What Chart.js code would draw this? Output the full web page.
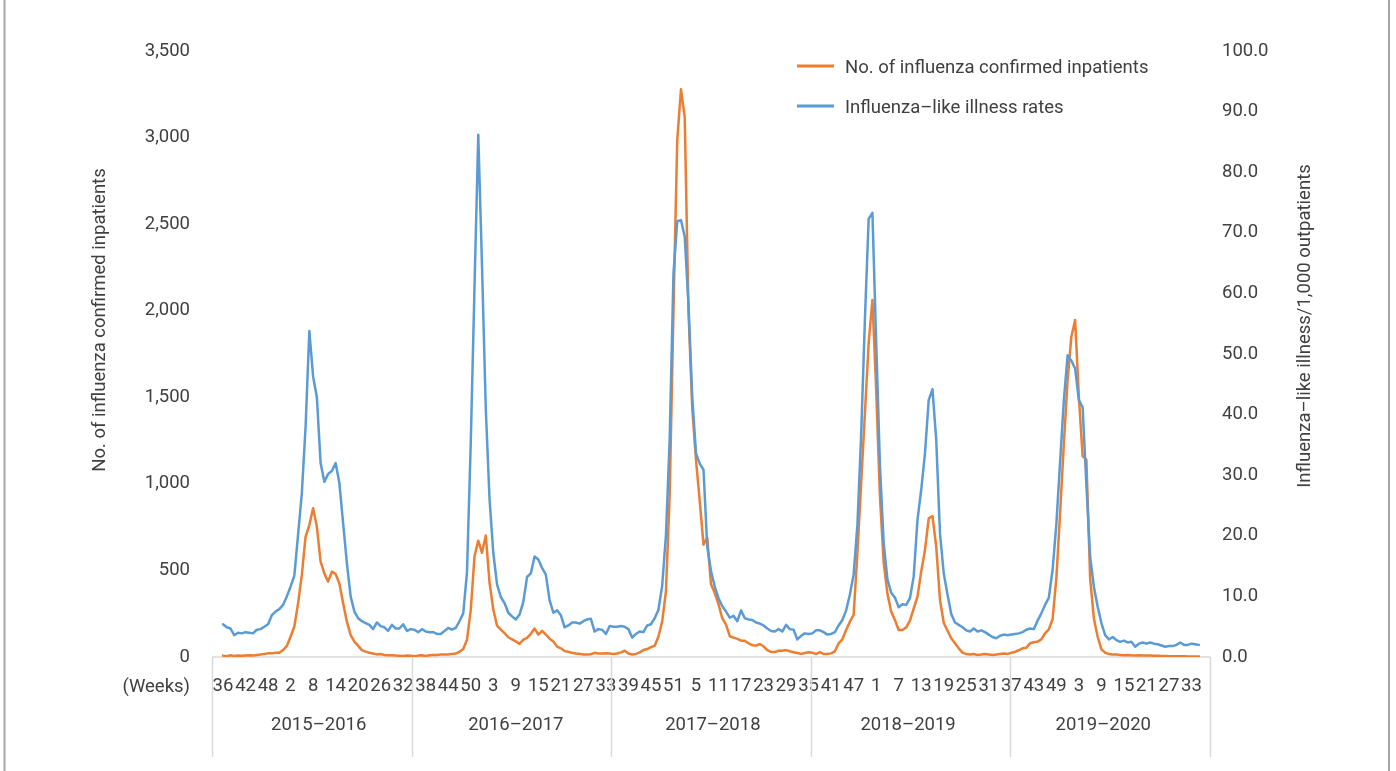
<!DOCTYPE html>
<html>
<head>
<meta charset="utf-8">
<script src="https://cdn.jsdelivr.net/npm/chart.js@4.4.1/dist/chart.umd.min.js"></script>
<style>
  html, body { margin: 0; padding: 0; background: #fff; }
  canvas { display: block; }
</style>
</head>
<body>
<canvas id="flu_chart" width="1396" height="771"></canvas>
<script>
// week numbers of one season (Sep -> Aug), 2016 has a week 53
const weeks52 = [36,37,38,39,40,41,42,43,44,45,46,47,48,49,50,51,52,
  1,2,3,4,5,6,7,8,9,10,11,12,13,14,15,16,17,18,19,20,21,22,23,24,25,26,27,28,29,30,31,32,33,34,35];
const weeks53 = [36,37,38,39,40,41,42,43,44,45,46,47,48,49,50,51,52,53,
  1,2,3,4,5,6,7,8,9,10,11,12,13,14,15,16,17,18,19,20,21,22,23,24,25,26,27,28,29,30,31,32,33,34,35];

const seasons = ['2015–2016', '2016–2017', '2017–2018', '2018–2019', '2019–2020'];
const seasonWeeks = [weeks52, weeks53, weeks52, weeks52, weeks52];

// No. of influenza confirmed inpatients (left axis)
const inpat1516 = [8,5,10,6,8,7,9,10,8,12,14,17,21,21,25,25,40,64,117,175,310,474,695,762,859,753,
  551,483,435,493,479,425,310,204,127,89,64,40,31,25,20,15,17,12,10,10,8,7,6,8,7,5];
const inpat1617 = [8,10,6,10,12,12,14,15,15,18,20,30,46,100,271,582,672,602,702,430,275,181,158,138,114,102,
  90,76,100,110,134,164,130,151,130,106,90,60,50,34,30,24,20,18,14,14,16,24,20,20,22,20,18];
const inpat1718 = [20,27,36,20,14,18,27,40,46,57,65,118,204,380,940,2000,2980,3279,3117,2000,1440,1140,900,649,690,420,
  369,305,224,187,120,112,105,94,94,79,68,66,75,62,40,29,29,36,36,40,33,27,23,18,23,27];
const inpat1819 = [25,17,29,17,17,21,33,79,102,156,204,243,599,1003,1407,1812,2062,1544,930,545,366,262,214,156,156,171,
  210,281,348,493,618,801,814,637,329,198,152,108,79,50,25,17,15,17,12,14,17,15,12,14,17,20];
const inpat1920 = [17,25,29,39,50,54,79,85,89,102,137,160,218,455,830,1234,1600,1850,1946,1500,1160,1140,454,223,117,44,
  25,17,15,14,12,10,12,10,9,10,8,9,8,7,7,6,6,5,5,4,4,4,3,3,3,3];

// Influenza-like illness rates per 1,000 outpatients (right axis)
const ili1516 = [5.4,4.9,4.7,3.6,4.0,3.9,4.1,4.0,3.9,4.5,4.6,5.0,5.4,6.9,7.5,7.9,8.6,10.0,11.6,13.4,20.2,27.0,38.0,53.8,46.3,42.9,
  32.0,28.9,30.2,30.7,32.0,28.7,22.1,15.5,10.0,7.5,6.4,5.9,5.6,5.3,4.6,5.7,5.1,4.9,4.3,5.3,4.7,4.7,5.4,4.3,4.6,4.5];
const ili1617 = [4.1,4.6,4.2,4.1,4.1,3.8,3.8,4.3,4.8,4.5,4.8,5.9,7.2,14.0,35.3,61.1,86.2,64.5,41.0,26.1,17.2,12.0,9.9,8.9,7.3,6.7,
  6.2,7.0,9.1,13.2,13.8,16.6,16.1,14.7,13.6,9.4,7.3,7.7,6.9,4.9,5.2,5.7,5.7,5.5,5.9,6.2,6.3,4.2,4.6,4.5,3.8,5.1,5.0];
const ili1718 = [5.0,5.1,5.0,4.6,3.2,3.8,4.2,4.1,5.2,5.4,6.4,7.8,11.8,20.1,36.1,63.2,71.9,72.1,69.4,58.2,42.9,33.6,31.9,30.9,18.2,14.2,
  11.6,9.7,8.4,7.5,6.5,6.8,5.9,7.7,6.4,6.2,6.1,5.7,5.5,5.2,4.7,4.3,4.2,4.6,4.2,5.3,4.6,4.5,2.9,3.5,3.9,3.8];
const ili1819 = [3.9,4.4,4.4,4.1,3.7,3.8,4.1,5.2,6.1,7.7,10.3,13.6,21.8,36.6,55.7,72.3,73.3,52.0,31.7,18.8,12.8,10.6,9.8,8.2,8.7,8.6,
  9.7,13.3,22.6,27.6,33.6,42.4,44.2,35.8,20.4,13.8,10.3,7.1,5.7,5.3,4.9,4.4,4.2,4.7,4.2,4.4,4.1,3.7,3.3,3.1,3.5,3.7];
const ili1920 = [3.6,3.7,3.8,3.9,4.1,4.5,4.7,4.6,6.0,7.2,8.6,9.8,14.4,21.9,32.2,42.4,49.8,48.9,47.6,42.4,41.2,28.4,16.5,11.6,8.3,5.6,
  3.6,2.9,3.3,2.8,2.5,2.7,2.4,2.5,1.7,2.2,2.4,2.2,2.4,2.2,2.1,1.9,1.7,1.8,1.8,2.0,2.4,2.0,2.0,2.2,2.1,2.0];

const weekLabels = seasonWeeks.flat().map(String);
const inpatients = [...inpat1516, ...inpat1617, ...inpat1718, ...inpat1819, ...inpat1920];
const iliRates = [...ili1516, ...ili1617, ...ili1718, ...ili1819, ...ili1920];

const textColor = '#404040';
const fontFamily = 'Roboto, "Liberation Sans", sans-serif';
const fontSize = 18.5;
Chart.defaults.font.family = fontFamily;
Chart.defaults.font.size = fontSize;
Chart.defaults.color = textColor;

const orange = '#ED7D31';
const blue = '#5B9BD5';

// multi level axis, titles, legend and frame
const decor = {
  id: 'decor',
  beforeDatasetsDraw(chart) {
    const { ctx, chartArea: a, scales: { x } } = chart;
    const L = a.left - 11, R = a.right + 11, base = a.bottom;
    ctx.save();
    ctx.strokeStyle = '#d9d9d9';
    ctx.lineWidth = 1.5;
    ctx.beginPath();
    ctx.moveTo(L, base); ctx.lineTo(R, base);
    for (let s = 0; s <= seasons.length; s++) {
      const xx = Math.round(L + (R - L) * s / seasons.length) + 0.5;
      ctx.moveTo(xx, base); ctx.lineTo(xx, base + 100);
    }
    ctx.stroke();

    ctx.fillStyle = textColor;
    ctx.font = fontSize + 'px ' + fontFamily;
    ctx.textBaseline = 'middle';
    ctx.textAlign = 'center';
    let start = 0;
    seasons.forEach((name, s) => {
      const n = seasonWeeks[s].length;
      const cx = (x.getPixelForValue(start) + x.getPixelForValue(start + n - 1)) / 2;
      ctx.fillText(name, cx, base + 68);
      start += n;
    });
    ctx.textAlign = 'right';
    ctx.fillText('(Weeks)', a.left - 33, base + 30);

    // axis titles
    ctx.textAlign = 'center';
    ctx.save();
    ctx.translate(100, a.top + 269);
    ctx.rotate(-Math.PI / 2);
    ctx.fillText('No. of influenza confirmed inpatients', 0, 0);
    ctx.restore();
    ctx.save();
    ctx.translate(1305, a.top + 275);
    ctx.rotate(-Math.PI / 2);
    ctx.fillText('Influenza–like illness/1,000 outpatients', 0, 0);
    ctx.restore();

    // legend
    const items = [[orange, 'No. of influenza confirmed inpatients', 68], [blue, 'Influenza–like illness rates', 108]];
    ctx.textAlign = 'left';
    ctx.lineWidth = 3;
    items.forEach(([c, t, yy]) => {
      ctx.strokeStyle = c;
      ctx.beginPath(); ctx.moveTo(797, yy - 2); ctx.lineTo(834, yy - 2); ctx.stroke();
      ctx.fillText(t, 845, yy);
    });

    // outer frame
    ctx.strokeStyle = '#a6a6a6';
    ctx.lineWidth = 2;
    ctx.beginPath();
    ctx.moveTo(4.5, 0); ctx.lineTo(4.5, 771);
    ctx.moveTo(1389, 0); ctx.lineTo(1389, 771);
    ctx.stroke();
    ctx.restore();
  }
};

const ctx = document.getElementById('flu_chart').getContext('2d');
const chart = new Chart(ctx, {
  type: 'line',
  data: {
    labels: weekLabels,
    datasets: [{
      label: 'No. of influenza confirmed inpatients',
      data: inpatients,
      yAxisID: 'y',
      borderColor: orange,
      backgroundColor: orange,
      borderWidth: 2.5,
      borderJoinStyle: 'round',
      borderCapStyle: 'round',
      pointRadius: 0,
      tension: 0,
      order: 2
    }, {
      label: 'Influenza–like illness rates',
      data: iliRates,
      yAxisID: 'y1',
      borderColor: blue,
      backgroundColor: blue,
      borderWidth: 2.5,
      borderJoinStyle: 'round',
      borderCapStyle: 'round',
      pointRadius: 0,
      tension: 0,
      order: 1
    }]
  },
  options: {
    responsive: false,
    animation: false,
    layout: { padding: { top: 51, bottom: 0, left: 0, right: 0 } },
    plugins: { legend: { display: false }, tooltip: { enabled: false } },
    scales: {
      x: {
        offset: false,
        grid: { display: false, drawTicks: false },
        border: { display: false },
        ticks: {
          autoSkip: false, maxRotation: 0, minRotation: 0, padding: 18,
          callback: (v, i) => (i % 6 === 0 ? weekLabels[i] : '')
        },
        afterFit: s => { s.height = 114; }
      },
      y: {
        position: 'left',
        min: 0, max: 3500,
        grid: { display: false, drawTicks: false },
        border: { display: false },
        ticks: { stepSize: 500, padding: 33, callback: v => v.toLocaleString('en-US') },
        afterFit: s => { s.width = 223; }
      },
      y1: {
        position: 'right',
        min: 0, max: 100,
        grid: { display: false, drawTicks: false },
        border: { display: false },
        ticks: { stepSize: 10, padding: 23, callback: v => v.toFixed(1) },
        afterFit: s => { s.width = 197; }
      }
    }
  },
  plugins: [decor]
});
</script>
</body>
</html>
